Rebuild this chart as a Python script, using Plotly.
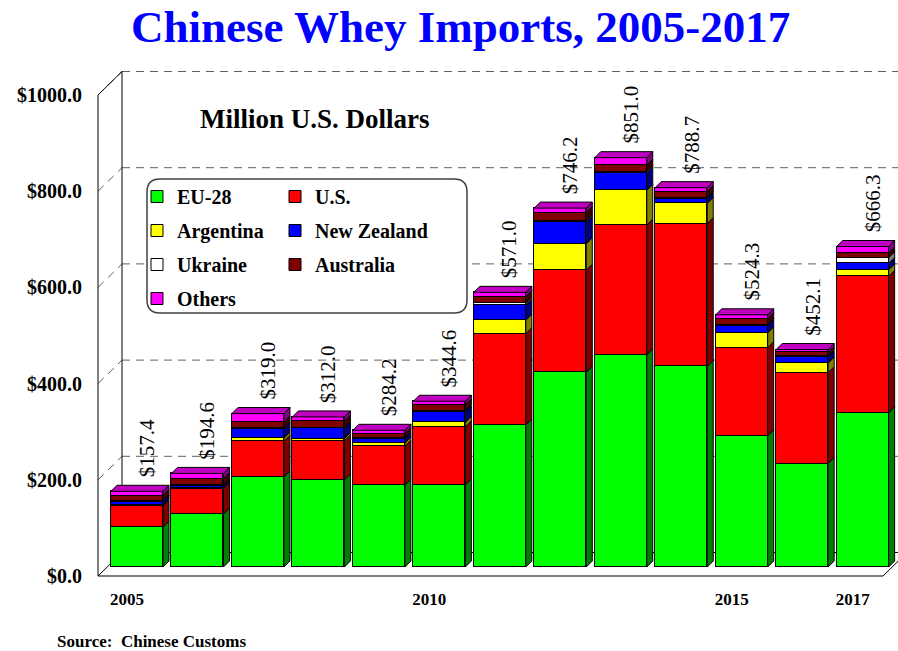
import plotly.graph_objects as go

# ---------------- data ----------------
years = list(range(2005, 2018))
eu28 = [83, 110, 187, 181, 170, 171, 295, 405, 441, 417, 273, 215, 321]
us = [44, 53, 74, 81, 81, 120, 190, 212, 270, 297, 183, 189, 283]
argentina = [2, 1, 7, 5, 7, 10, 28, 55, 72, 42, 31, 20, 14]
new_zealand = [7, 5, 18, 21, 9, 22, 31, 45, 36, 10, 15, 13, 13]
ukraine = [0.5, 0.5, 2, 2, 1, 2, 4, 3, 3, 2, 2, 2, 12]
australia = [12, 14, 13, 13, 9, 12, 14, 17, 13, 12, 12, 7, 9]
others = [8.9, 11.1, 18, 9, 7.2, 7.6, 9, 9.2, 16, 8.7, 8.3, 6.1, 14.3]
total_labels = [157.4, 194.6, 319.0, 312.0, 284.2, 344.6, 571.0, 746.2,
                851.0, 788.7, 524.3, 452.1, 666.3]
tick_years = [2005, 2010, 2015, 2017]
y_ticks = [0, 200, 400, 600, 800, 1000]

series = [
    ("EU-28", eu28, "#00FF00", "#008000", "legend"),
    ("U.S.", us, "#FF0000", "#800000", "legend2"),
    ("Argentina", argentina, "#FFFF00", "#808000", "legend"),
    ("New Zealand", new_zealand, "#0000FF", "#000080", "legend2"),
    ("Ukraine", ukraine, "#FFFFFF", "#808080", "legend"),
    ("Australia", australia, "#800000", "#400000", "legend2"),
    ("Others", others, "#FF00FF", "#800080", "legend"),
]
TOP_FACE = "#C000C0"

# ---------------- geometry ----------------
W, H = 898, 651
ML, MR, MT, MB = 98, 0, 60, 66
PW, PH = W - ML - MR, H - MT - MB
X0_PX, PITCH = 137.0, 60.47          # pixel centre of first bar, pixels per year
PXU = 0.481                           # pixels per million $
BAR_BASE_PX, FRONT_BASE_PX, BACK_BASE_PX = 567.0, 576.0, 552.5
FRONT_X, BACK_X = 98.0, 122.0
BAR_W = 0.86
DEPTH_PX = 6.0
SERIF = "Liberation Serif, Times New Roman, serif"


def xr(px):
    return years[0] + (px - X0_PX) / PITCH


x_range = [xr(ML), xr(W - MR)]
y_range = [(BAR_BASE_PX - (MT + PH)) / PXU, (BAR_BASE_PX - MT) / PXU]
front_shift = (FRONT_BASE_PX - BAR_BASE_PX) / PXU   # front axis plane sits lower than bar plane
dx = DEPTH_PX / PITCH
dy = DEPTH_PX / PXU


def pxp(px):
    return (px - ML) / PW


def pyp(py):
    return (MT + PH - py) / PH


def y_front(v):
    return FRONT_BASE_PX - PXU * v


def y_back(v):
    return BACK_BASE_PX - PXU * v


fig = go.Figure()

# ---------------- bars (front faces) ----------------
for name, vals, col, side, leg in series:
    fig.add_trace(go.Bar(
        x=years, y=vals, name=name, width=BAR_W,
        marker=dict(color=col, line=dict(color="black", width=1)),
        legend=leg, legendgroup=name, hoverinfo="skip",
    ))

# ---------------- 3D side faces ----------------
cum = [0.0] * len(years)
for name, vals, col, side, leg in series:
    xs, ys = [], []
    for i, yr in enumerate(years):
        y0, y1 = cum[i], cum[i] + vals[i]
        xr_ = yr + BAR_W / 2
        xs += [xr_, xr_ + dx, xr_ + dx, xr_, xr_, None]
        ys += [y0, y0 + dy, y1 + dy, y1, y0, None]
        cum[i] = y1
    fig.add_trace(go.Scatter(
        x=xs, y=ys, mode="lines", fill="toself", fillcolor=side,
        line=dict(color="black", width=1), showlegend=False,
        legendgroup=name, hoverinfo="skip",
    ))

# top faces
xs, ys = [], []
for i, yr in enumerate(years):
    t = cum[i]
    xl, xr2 = yr - BAR_W / 2, yr + BAR_W / 2
    xs += [xl, xl + dx, xr2 + dx, xr2, xl, None]
    ys += [t, t + dy, t + dy, t, t, None]
fig.add_trace(go.Scatter(
    x=xs, y=ys, mode="lines", fill="toself", fillcolor=TOP_FACE,
    line=dict(color="black", width=1), showlegend=False,
    legendgroup="Others", hoverinfo="skip",
))

# ---------------- frame (3D box) ----------------
shapes = []


def seg(x0, y0, x1, y1, color="black", dash="solid", width=1):
    shapes.append(dict(type="line", xref="paper", yref="paper",
                       x0=pxp(x0), y0=pyp(y0), x1=pxp(x1), y1=pyp(y1),
                       line=dict(color=color, width=width, dash=dash),
                       layer="below"))


GRID = "#606060"
for v in y_ticks[1:]:
    seg(BACK_X, y_back(v), W, y_back(v), GRID, "8px,6px")
    seg(FRONT_X, y_front(v), BACK_X, y_back(v), GRID, "8px,6px")

top = y_ticks[-1]
seg(FRONT_X, y_front(0), FRONT_X, y_front(top))
seg(FRONT_X, y_front(top), BACK_X, y_back(top))
seg(BACK_X, y_back(0), BACK_X, y_back(top))
seg(FRONT_X, y_front(0), 883, y_front(0))
seg(BACK_X, y_back(0), W, y_back(0))
seg(FRONT_X, y_front(0), BACK_X, y_back(0))
seg(883, y_front(0), W, y_front(0) - (W - 883) * (FRONT_BASE_PX - BACK_BASE_PX) / (BACK_X - FRONT_X))

# legend box with rounded corners
bx0, by0, bx1, by1, r = 147, 179, 467, 313, 13
rx, ry = r / PW, r / PH
X0, X1, Y0, Y1 = pxp(bx0), pxp(bx1), pyp(by0), pyp(by1)
path = (f"M{X0 + rx},{Y0} L{X1 - rx},{Y0} Q{X1},{Y0} {X1},{Y0 - ry} "
        f"L{X1},{Y1 + ry} Q{X1},{Y1} {X1 - rx},{Y1} L{X0 + rx},{Y1} "
        f"Q{X0},{Y1} {X0},{Y1 + ry} L{X0},{Y0 - ry} Q{X0},{Y0} {X0 + rx},{Y0} Z")
shapes.append(dict(type="path", xref="paper", yref="paper", path=path,
                   fillcolor="white", line=dict(color="#404040", width=1.5),
                   layer="below"))

# ---------------- annotations ----------------
annotations = []
for i, yr in enumerate(years):
    annotations.append(dict(
        x=yr, y=cum[i], xref="x", yref="y", text=f"${total_labels[i]:.1f}",
        textangle=-90, showarrow=False, xanchor="center", yanchor="bottom",
        xshift=10, yshift=12,
        font=dict(family=SERIF, size=21, color="black", weight="normal"),
    ))

annotations.append(dict(
    x=pxp(460.5), y=pyp(27), xref="paper", yref="paper",
    text="<b>Chinese Whey Imports, 2005-2017</b>", showarrow=False,
    xanchor="center", yanchor="middle",
    font=dict(family=SERIF, size=45, color="#0000FF"),
))
annotations.append(dict(
    x=pxp(315), y=pyp(119), xref="paper", yref="paper",
    text="<b>Million U.S. Dollars</b>", showarrow=False,
    xanchor="center", yanchor="middle",
    font=dict(family=SERIF, size=27, color="black"),
))
annotations.append(dict(
    x=pxp(55), y=pyp(641), xref="paper", yref="paper",
    text="<b>Source:\u00a0 Chinese Customs</b>", showarrow=False,
    xanchor="left", yanchor="middle",
    font=dict(family=SERIF, size=17, color="black"),
))

legend_common = dict(
    xanchor="left", yanchor="top", bgcolor="rgba(0,0,0,0)", borderwidth=0,
    font=dict(family=SERIF, size=20, color="black", weight="bold"),
    tracegroupgap=5, itemwidth=30, traceorder="grouped",
)

fig.update_layout(
    width=W, height=H, margin=dict(l=ML, r=MR, t=MT, b=MB),
    paper_bgcolor="white", plot_bgcolor="rgba(0,0,0,0)",
    barmode="stack", bargap=0, hovermode=False,
    xaxis=dict(range=x_range, showgrid=False, zeroline=False, showline=False,
               ticks="", tickvals=[y - 10 / PITCH for y in tick_years],
               ticktext=[str(y) for y in tick_years], ticklabelstandoff=2,
               tickfont=dict(family=SERIF, size=17, color="black", weight="bold")),
    yaxis=dict(range=y_range, showgrid=False, zeroline=False, showline=False,
               ticks="", tickvals=[v - front_shift for v in y_ticks],
               ticktext=[f"${v:.1f}" for v in y_ticks], ticklabelstandoff=15,
               tickfont=dict(family=SERIF, size=20, color="black", weight="bold")),
    legend=dict(x=pxp(137), y=pyp(177), **legend_common),
    legend2=dict(x=pxp(275), y=pyp(177), **legend_common),
    shapes=shapes, annotations=annotations,
)

fig.write_html("out.html")
